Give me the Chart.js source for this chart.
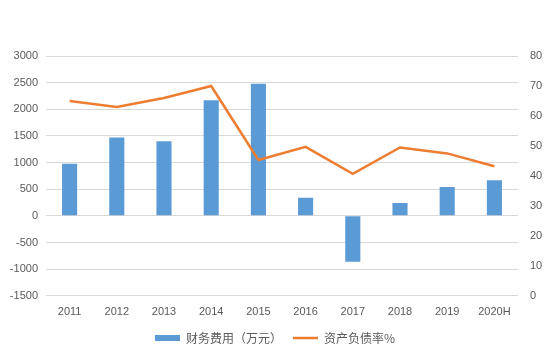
<!DOCTYPE html>
<html>
<head>
<meta charset="utf-8">
<script src="https://cdn.jsdelivr.net/npm/chart.js@4/dist/chart.umd.min.js"></script>
<style>
html,body{margin:0;padding:0;background:#fff;}
#wrap{width:550px;height:356px;position:relative;}
</style>
</head>
<body>
<div id="wrap"><canvas id="c" width="550" height="356"></canvas></div>
<script>
const categories = ['2011','2012','2013','2014','2015','2016','2017','2018','2019','2020H'];
const financeCost = [980, 1470, 1400, 2170, 2480, 340, -860, 240, 540, 670];
const debtRatio = [65, 63, 66, 70, 45.3, 49.7, 40.7, 49.5, 47.5, 43.2];
const seriesNames = ['财务费用（万元）', '资产负债率%'];

const tickFont = {family: '"Liberation Sans", "Noto Sans", sans-serif', size: 11};
const tickColor = '#595959';

new Chart(document.getElementById('c'), {
  type: 'bar',
  data: {
    labels: categories,
    datasets: [
      {
        type: 'line',
        label: seriesNames[1],
        data: debtRatio,
        yAxisID: 'y1',
        borderColor: '#ED7D31',
        backgroundColor: '#ED7D31',
        borderWidth: 2.5,
        pointRadius: 0,
        tension: 0,
        order: 0
      },
      {
        type: 'bar',
        label: seriesNames[0],
        data: financeCost,
        yAxisID: 'y',
        backgroundColor: '#5B9BD5',
        borderWidth: 0,
        categoryPercentage: 1,
        barPercentage: 0.32,
        order: 1
      }
    ]
  },
  options: {
    responsive: false,
    animation: false,
    layout: {padding: {top: 56, left: 0, right: 0, bottom: 2}},
    plugins: {
      tooltip: {enabled: false},
      legend: {
        position: 'bottom',
        reverse: true,
        labels: {
          usePointStyle: true,
          boxHeight: 6,
          pointStyleWidth: 25,
          padding: 11,
          color: '#595959',
          font: {family: '"Noto Sans CJK SC", sans-serif', size: 12},
          generateLabels: (chart) => chart.data.datasets.map((ds, i) => ({
            text: ds.label,
            fillStyle: ds.type === 'bar' ? '#5B9BD5' : '#ED7D31',
            strokeStyle: ds.type === 'bar' ? '#5B9BD5' : '#ED7D31',
            lineWidth: ds.type === 'bar' ? 0 : 2.5,
            pointStyle: ds.type === 'bar' ? 'rect' : 'line',
            hidden: false,
            datasetIndex: i,
            fontColor: '#595959'
          }))
        }
      }
    },
    scales: {
      x: {
        grid: {display: false},
        border: {display: false},
        ticks: {color: tickColor, font: tickFont, padding: 2, maxRotation: 0}
      },
      y: {
        position: 'left',
        min: -1500, max: 3000,
        ticks: {stepSize: 500, color: tickColor, font: tickFont, padding: 8,
                callback: (v) => String(v)},
        grid: {color: '#D9D9D9', lineWidth: 1, drawTicks: false},
        border: {display: false},
        afterFit: (axis) => { axis.width = 46; }
      },
      y1: {
        position: 'right',
        min: 0, max: 80,
        ticks: {stepSize: 10, color: tickColor, font: tickFont, padding: 12,
                callback: (v) => String(v)},
        grid: {drawOnChartArea: false, drawTicks: false},
        border: {display: false},
        afterFit: (axis) => { axis.width = 32; }
      }
    }
  }
});
</script>
</body>
</html>
